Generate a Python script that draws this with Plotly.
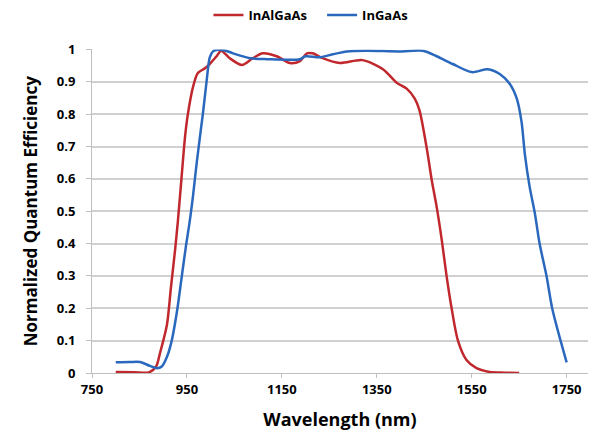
import plotly.graph_objects as go

# InAlGaAs (red)
inalgaas_x = [800, 840, 870, 885, 893, 908, 916, 925, 931, 939, 946, 952, 963, 973, 988, 998, 1013, 1022,
              1040, 1066, 1089, 1110, 1139, 1167, 1188, 1203, 1215, 1236, 1272, 1320, 1363, 1392,
              1413, 1430, 1440, 1455, 1466, 1476, 1487, 1497, 1508, 1521, 1539, 1560, 1588, 1620, 1650]
inalgaas_y = [0.003, 0.002, 0.002, 0.02, 0.06, 0.15, 0.26, 0.38, 0.47, 0.61, 0.73, 0.80, 0.885, 0.927, 0.942, 0.955, 0.98, 0.996,
              0.973, 0.952, 0.973, 0.988, 0.979, 0.958, 0.964, 0.988, 0.988, 0.973, 0.958, 0.967, 0.939, 0.897,
              0.879, 0.848, 0.812, 0.697, 0.594, 0.515, 0.41, 0.30, 0.197, 0.10, 0.04, 0.015, 0.003, 0.001, 0.0]

# InGaAs (blue)
ingaas_x = [800, 830, 851, 872, 887, 897, 908, 918, 929, 939, 948, 956, 963, 971, 984, 992, 998, 1005,
            1015, 1030, 1047, 1083, 1118, 1188, 1200, 1230, 1257, 1287, 1329, 1398, 1447, 1476, 1510,
            1550, 1584, 1609, 1630, 1645, 1655, 1662, 1672, 1683, 1693, 1708, 1720, 1750]
ingaas_y = [0.033, 0.034, 0.034, 0.022, 0.015, 0.02, 0.05, 0.10, 0.19, 0.297, 0.393, 0.47, 0.55, 0.655, 0.806, 0.909, 0.975, 0.994,
            0.999, 0.997, 0.988, 0.973, 0.97, 0.97, 0.979, 0.976, 0.985, 0.994, 0.996, 0.994, 0.996, 0.979, 0.955,
            0.93, 0.939, 0.924, 0.894, 0.848, 0.776, 0.676, 0.576, 0.494, 0.40, 0.297, 0.197, 0.033]

x_ticks = [750, 950, 1150, 1350, 1550, 1750]
y_ticks = [0, 0.1, 0.2, 0.3, 0.4, 0.5, 0.6, 0.7, 0.8, 0.9, 1]
y_tick_labels = ["0", "0.1", "0.2", "0.3", "0.4", "0.5", "0.6", "0.7", "0.8", "0.9", "1"]

FONT = "Open Sans"

fig = go.Figure()
fig.add_trace(go.Scatter(x=inalgaas_x, y=inalgaas_y, mode="lines", name="InAlGaAs   ",
                         line=dict(color="#C0282D", width=2.5, shape="spline", smoothing=0.8)))
fig.add_trace(go.Scatter(x=ingaas_x, y=ingaas_y, mode="lines", name="InGaAs",
                         line=dict(color="#2A68BE", width=2.5, shape="spline", smoothing=0.8)))

fig.update_layout(
    width=598, height=439,
    margin=dict(l=92, r=10, t=43, b=66),
    paper_bgcolor="white", plot_bgcolor="white",
    font=dict(family=FONT, color="black"),
    legend=dict(orientation="h", x=0.52, xref="container", xanchor="center",
                y=1.0, yref="container", yanchor="top",
                font=dict(size=13, family=FONT, weight="bold"),
                itemwidth=30, bgcolor="rgba(0,0,0,0)"),
    showlegend=True,
)
fig.update_xaxes(range=[750, 1795], tickvals=x_ticks, ticktext=[str(v) for v in x_ticks],
                 showgrid=False, zeroline=False,
                 showline=True, linecolor="#BFBFBF", linewidth=1,
                 ticks="outside", ticklen=4, tickcolor="#BFBFBF",
                 tickfont=dict(size=13, family=FONT, weight="bold"),
                 title=dict(text="Wavelength (nm)", font=dict(size=18, family=FONT, weight="bold"), standoff=16))
fig.update_yaxes(range=[0, 1.0], tickvals=y_ticks, ticktext=y_tick_labels,
                 showgrid=True, gridcolor="#D0D0D0", gridwidth=1.5, zeroline=False,
                 showline=True, linecolor="#BFBFBF", linewidth=1,
                 ticks="outside", ticklen=5, tickcolor="#BFBFBF", ticklabelstandoff=8,
                 tickfont=dict(size=13, family=FONT, weight="bold"),
                 title=dict(text="Normalized Quantum Efficiency", font=dict(size=17, family=FONT, weight="bold"), standoff=14))

fig.write_html("out.html")
